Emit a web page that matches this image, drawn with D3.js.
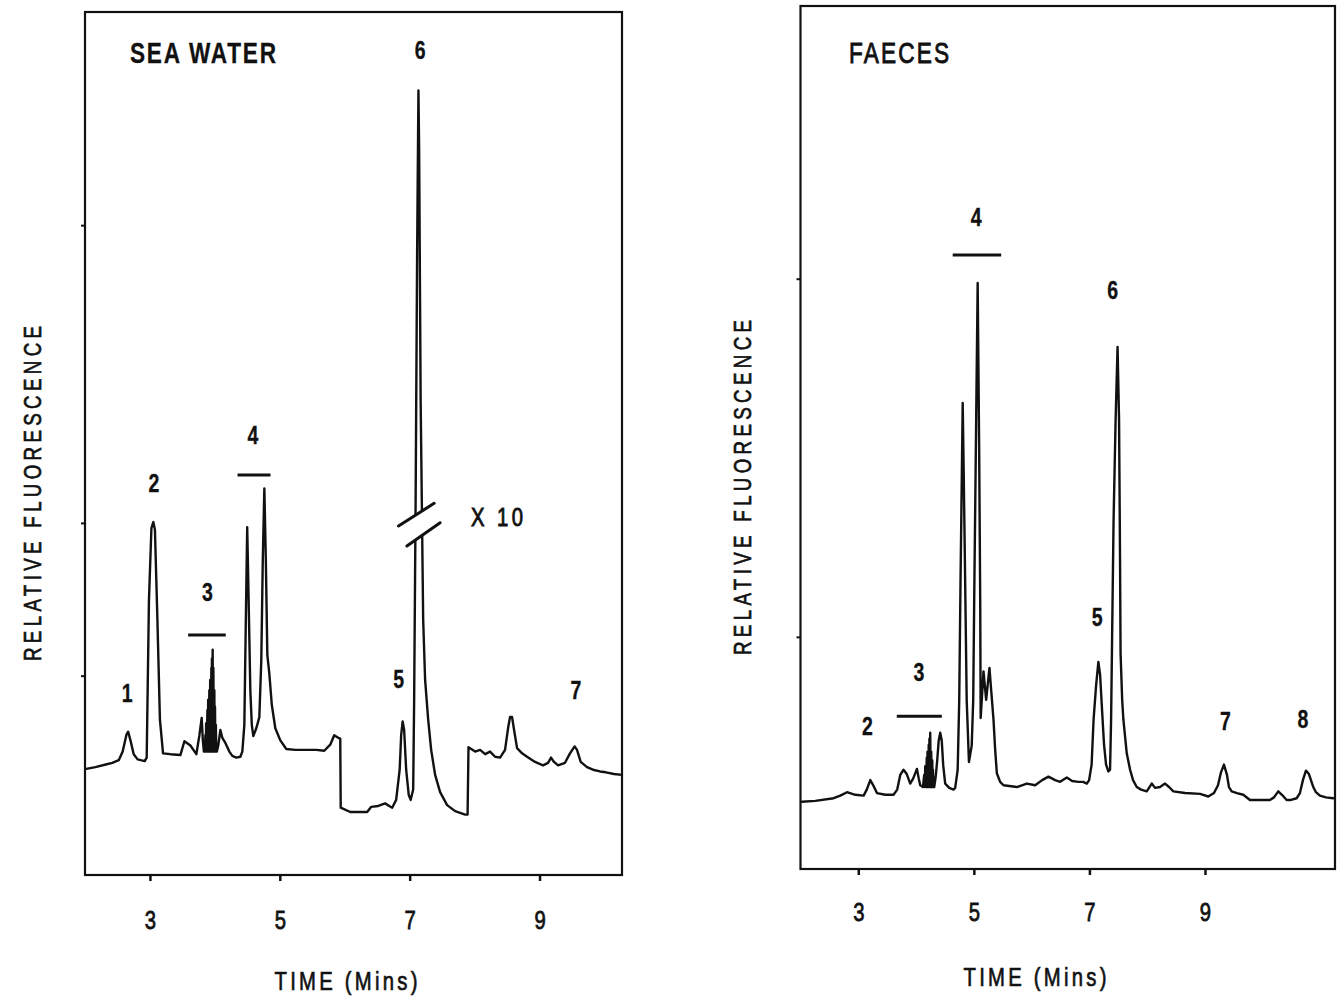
<!DOCTYPE html>
<html><head><meta charset="utf-8">
<script src="https://cdn.jsdelivr.net/npm/d3@7"></script>
<style>
html,body{margin:0;padding:0;background:#fff;}
svg{display:block;background:#fff;}
text{font-family:"Liberation Sans Narrow","Arial Narrow","Liberation Sans",Arial,sans-serif;fill:#111;}
</style></head><body>
<svg id="chart" width="1340" height="998"></svg>
<script>
// ---------------- DATA ----------------
const xTickValues = [3, 5, 7, 9];

// Sea water chromatogram (time in minutes, relative fluorescence 0-100)
const seaTime = [2.02,2.16,2.32,2.42,2.52,2.58,2.64,2.665,2.70,2.75,2.81,2.92,2.95,2.985,3.023,3.052,3.077,3.115,3.154,3.202,
  3.315,3.469,3.531,3.623,3.715,3.762,3.797,3.815,3.831,3.843,3.848,3.854,3.860,3.866,3.875,3.885,3.891,3.897,3.906,3.915,
  3.921,3.928,3.937,3.946,3.951,3.955,3.961,3.966,3.971,3.977,3.984,3.992,3.997,4.002,4.008,4.015,4.022,4.031,
  4.054,4.085,4.115,4.162,4.223,4.269,4.331,4.392,4.423,4.454,4.477,4.498,4.520,4.546,4.569,4.592,4.638,
  4.685,4.715,4.738,4.762,4.785,4.808,4.838,4.877,4.931,5.008,5.100,5.238,5.392,5.562,5.685,5.777,5.838,5.900,5.931,5.938,
  6.085,6.238,6.346,6.408,6.515,6.623,6.685,6.731,6.792,6.846,6.869,6.892,6.915,6.946,6.985,7.015,7.054,7.069,7.092,7.115,
  7.135,7.146,7.169,7.192,7.208,7.238,7.285,7.331,7.392,7.469,7.577,7.700,7.854,7.892,7.906,8.008,8.085,8.162,8.238,8.315,
  8.392,8.469,8.515,8.546,8.577,8.608,8.654,8.731,8.808,8.931,9.054,9.131,9.177,9.223,9.285,9.392,9.469,9.540,9.577,9.634,
  9.731,9.823,9.931,10.023,10.146,10.269];
const seaSignal = [12.3,12.5,12.8,13.0,13.3,14.3,16.3,16.6,15.6,14.0,13.4,13.2,13.6,31.9,40.2,40.9,40.0,29.6,18.0,14.1,
  14.0,13.9,15.5,15.0,14.0,16.2,18.2,15.6,14.3,15.2,14.3,16.2,14.3,17.6,14.3,19.1,14.3,20.3,14.3,21.4,
  14.3,22.6,14.3,24.0,14.3,25.1,14.3,26.1,14.3,24.0,14.3,21.4,14.3,19.5,14.3,17.4,14.3,14.3,
  15.1,16.8,15.9,15.3,14.3,13.8,13.6,13.7,14.3,17.4,29.6,40.3,31.9,21.4,17.4,16.1,17.0,
  18.3,24.9,36.5,44.8,36.5,25.5,23.4,19.7,17.0,15.6,14.6,14.5,14.5,14.5,14.4,15.1,16.2,15.9,15.8,7.8,
  7.3,7.3,7.3,7.9,8.0,8.3,8.0,7.8,8.7,12.2,16.2,17.8,16.8,12.2,9.3,8.7,9.9,20.3,43.5,72.4,
  90.9,84.0,55.0,40.0,29.6,22.6,18.0,14.5,11.6,9.6,8.1,7.4,7.0,7.0,14.8,14.3,14.5,14.0,14.3,13.7,
  13.6,14.5,17.0,18.3,18.3,16.8,14.7,14.1,13.7,13.1,12.7,13.0,13.6,13.1,12.7,13.0,14.1,14.9,14.5,13.1,
  12.5,12.2,12.0,11.9,11.7,11.6];

// Faeces chromatogram
const faecesTime = [2.026,2.256,2.573,2.689,2.805,2.948,3.092,3.147,3.208,3.259,3.323,3.467,3.610,3.674,3.726,3.783,3.839,3.899,3.951,4.015,
  4.046,4.072,4.119,4.130,4.141,4.150,4.159,4.172,4.185,4.192,4.198,4.208,4.219,4.225,4.231,4.238,4.245,4.253,4.262,4.271,
  4.280,4.286,4.292,4.299,4.306,4.314,4.340,4.366,4.392,4.418,4.444,
  4.470,4.504,4.574,4.648,4.677,4.720,4.747,4.769,4.793,4.807,4.824,4.850,4.876,4.915,4.963,4.989,5.006,5.040,5.066,5.092,
  5.110,5.118,5.167,5.213,5.270,5.300,5.340,5.369,5.398,5.455,5.513,5.744,5.917,6.061,6.182,6.291,6.407,6.493,6.609,6.701,
  6.809,6.891,6.955,6.995,7.038,7.072,7.116,7.155,7.185,7.219,7.253,7.288,7.328,7.357,7.375,7.392,7.418,7.453,7.487,7.513,
  7.530,7.539,7.567,7.588,7.646,7.704,7.755,7.819,7.894,7.992,8.079,8.136,8.222,8.309,8.378,8.452,8.655,8.915,9.057,9.156,
  9.225,9.277,9.328,9.381,9.415,9.462,9.553,9.663,9.778,9.951,10.124,10.194,10.268,10.332,10.413,10.488,10.586,10.643,10.695,10.747,
  10.799,10.834,10.874,10.920,10.989,11.093,11.219];
const faecesSignal = [7.8,7.9,8.2,8.5,8.9,8.6,8.5,9.2,10.3,9.7,8.8,8.6,8.6,9.2,10.9,11.5,11.0,9.9,10.5,11.6,
  10.5,9.7,9.5,10.2,10.9,9.5,11.9,9.5,12.9,9.5,13.6,9.5,14.4,9.5,15.1,9.5,15.8,9.5,13.6,9.5,
  12.6,9.5,11.5,9.5,10.6,9.5,10.7,12.6,14.9,15.8,14.9,
  12.0,9.9,9.4,9.2,9.4,11.5,19.6,33.1,46.2,54.0,46.2,33.1,19.6,12.4,14.3,19.6,31.2,52.0,67.9,48.6,
  31.2,17.5,22.9,19.6,23.3,20.7,17.3,13.8,11.1,10.1,9.7,9.5,9.9,9.7,10.3,10.7,10.3,10.1,10.6,10.2,
  10.1,10.1,9.9,10.3,12.1,17.3,21.3,24.0,22.5,18.4,14.4,12.1,11.3,11.5,17.3,26.5,40.4,52.0,60.5,52.0,
  35.8,25.0,19.6,17.3,13.4,11.5,10.3,9.5,9.2,9.0,9.9,9.4,9.5,9.9,9.5,9.0,8.8,8.7,8.4,8.8,
  9.7,11.2,12.1,10.9,9.5,9.0,8.8,8.6,8.0,8.0,8.0,8.3,9.0,8.6,8.0,8.0,8.2,8.8,10.3,11.4,
  11.0,10.3,9.5,8.9,8.5,8.3,8.2];

// Peak labels: text, time, fluorescence
const seaLabels = [
  {text:"1", t:2.649, v:21.1}, {text:"2", t:3.063, v:45.4}, {text:"3", t:3.885, v:32.85},
  {text:"4", t:4.585, v:51.0}, {text:"5", t:6.831, v:22.7}, {text:"6", t:7.162, v:95.6},
  {text:"7", t:9.562, v:21.4}
];
const seaBars = [{t0:3.588, t1:4.168, v:27.8}, {t0:4.349, t1:4.857, v:46.35}];
const seaBreak = [{t0:6.828, v0:40.44, t1:7.377, v1:43.07}, {t0:6.957, v0:38.12, t1:7.469, v1:40.82}];
const seaScaleNote = {text:"X 10", t:8.346, v:41.5};

const faecesLabels = [
  {text:"2", t:3.156, v:16.6}, {text:"3", t:4.050, v:22.8}, {text:"4", t:5.040, v:75.6},
  {text:"5", t:7.133, v:29.2}, {text:"6", t:7.401, v:67.1}, {text:"7", t:9.355, v:17.15},
  {text:"8", t:10.695, v:17.4}
];
const faecesBars = [{t0:3.666, t1:4.446, v:17.7}, {t0:4.634, t1:5.473, v:71.15}];

const seaYTicks = [23.1, 40.8, 75.3];
const faecesYTicks = [26.9, 68.4];

// ---------------- DRAW ----------------
const INK = "#111";
const SX = 0.78;   // horizontal condensing of the typewriter-style lettering
const svg = d3.select("#chart");

// condensed text placed at (x, y); optional total length after condensing
function ctext(parent, x, y, str, opt) {
  const o = Object.assign({size: 24, weight: "normal", anchor: "middle", dy: null, len: null, rotate: 0, heavy: 0.6}, opt || {});
  const g = parent.append("g").attr("transform", `translate(${x},${y}) rotate(${o.rotate}) scale(${SX},1)`);
  const t = g.append("text").attr("x", 0).attr("y", 0)
    .attr("text-anchor", o.anchor).attr("font-size", o.size).attr("font-weight", o.weight)
    .attr("stroke", INK).attr("stroke-width", o.heavy).text(str);
  if (o.dy) t.attr("dy", o.dy);
  if (o.len) t.attr("textLength", o.len / SX).attr("lengthAdjust", "spacing");
  return t;
}

function drawPanel(cfg) {
  const x = d3.scaleLinear().domain(cfg.xDomain).range([cfg.left, cfg.right]);
  const y = d3.scaleLinear().domain([0, 100]).range([cfg.bottom, cfg.top]);
  const g = svg.append("g");

  // x axis
  const ax = g.append("g").attr("transform", `translate(0,${cfg.bottom})`)
    .call(d3.axisBottom(x).tickValues(xTickValues).tickFormat(d3.format("d"))
      .tickSize(6).tickSizeOuter(0).tickPadding(cfg.tickPad));
  ax.select(".domain").remove();
  ax.selectAll("line").attr("stroke", INK).attr("stroke-width", 2.5);
  ax.selectAll("text").attr("font-size", 26).attr("fill", INK)
    .attr("stroke", INK).attr("stroke-width", 0.8)
    .attr("transform", `scale(${SX},1)`);

  // y ticks (unlabelled)
  const ay = g.append("g").attr("transform", `translate(${cfg.left},0)`)
    .call(d3.axisLeft(y).tickValues(cfg.yTicks).tickSize(4).tickFormat(""));
  ay.select(".domain").remove();
  ay.selectAll("line").attr("stroke", INK).attr("stroke-width", 2);

  // frame
  g.append("rect").attr("x", cfg.left).attr("y", cfg.top)
    .attr("width", cfg.right - cfg.left).attr("height", cfg.bottom - cfg.top)
    .attr("fill", "none").attr("stroke", INK).attr("stroke-width", 2.2);

  // trace
  const pts = cfg.time.map((t, i) => [t, cfg.signal[i]]);
  g.append("path").datum(pts)
    .attr("d", d3.line().x(d => x(d[0])).y(d => y(d[1])))
    .attr("fill", "none").attr("stroke", INK).attr("stroke-width", 2.4)
    .attr("stroke-linejoin", "round").attr("stroke-linecap", "round");

  // axis break on the off-scale peak
  if (cfg.breakMarks) {
    const [a, b] = cfg.breakMarks;
    const poly = [[a.t0, a.v0], [a.t1, a.v1], [b.t1, b.v1], [b.t0, b.v0]];
    g.append("polygon").attr("points", poly.map(p => `${x(p[0])},${y(p[1])}`).join(" "))
      .attr("fill", "#fff");
    g.selectAll(".brk").data(cfg.breakMarks).join("line").attr("class", "brk")
      .attr("x1", d => x(d.t0)).attr("y1", d => y(d.v0))
      .attr("x2", d => x(d.t1)).attr("y2", d => y(d.v1))
      .attr("stroke", INK).attr("stroke-width", 3).attr("stroke-linecap", "round");
  }
  if (cfg.note) {
    ctext(g, x(cfg.note.t), y(cfg.note.v), cfg.note.text, {size: 26, dy: "0.36em", len: 52, heavy: 0.9});
  }

  // group bars
  g.selectAll(".bar").data(cfg.bars).join("line").attr("class", "bar")
    .attr("x1", d => x(d.t0)).attr("x2", d => x(d.t1))
    .attr("y1", d => y(d.v)).attr("y2", d => y(d.v))
    .attr("stroke", INK).attr("stroke-width", 3);

  // peak labels
  cfg.labels.forEach(d => ctext(g, x(d.t), y(d.v), d.text, {size: 25, weight: "bold", dy: "0.36em", heavy: 0.3}));

  // title
  ctext(g, cfg.left + cfg.titleDx, cfg.top + cfg.titleDy, cfg.title,
    {size: 29, weight: cfg.titleWeight, anchor: "start", len: cfg.titleLen, heavy: cfg.titleHeavy});

  // axis titles
  ctext(g, cfg.yTitleX, (cfg.top + cfg.bottom) / 2 + 50, "RELATIVE FLUORESCENCE",
    {size: 24, rotate: -90, dy: "0.36em", len: 335, heavy: 0.7});
  ctext(g, cfg.xTitleX, cfg.xTitleY, "TIME (Mins)", {size: 26, len: 143, heavy: 0.7});
}

drawPanel({
  left: 85, right: 622, top: 12, bottom: 875, xDomain: [2, 10.27],
  time: seaTime, signal: seaSignal, labels: seaLabels, bars: seaBars,
  breakMarks: seaBreak, note: seaScaleNote, yTicks: seaYTicks, tickPad: 30,
  title: "SEA WATER", titleDx: 45, titleDy: 51, titleLen: 146, titleWeight: "bold", titleHeavy: 0.3,
  yTitleX: 32, xTitleX: 346, xTitleY: 990
});
drawPanel({
  left: 800.5, right: 1335, top: 6, bottom: 869, xDomain: [2, 11.25],
  time: faecesTime, signal: faecesSignal, labels: faecesLabels, bars: faecesBars,
  breakMarks: null, note: null, yTicks: faecesYTicks, tickPad: 28,
  title: "FAECES", titleDx: 48.5, titleDy: 56.5, titleLen: 100, titleWeight: "normal", titleHeavy: 0.9,
  yTitleX: 742, xTitleX: 1035, xTitleY: 986
});
</script></body></html>
